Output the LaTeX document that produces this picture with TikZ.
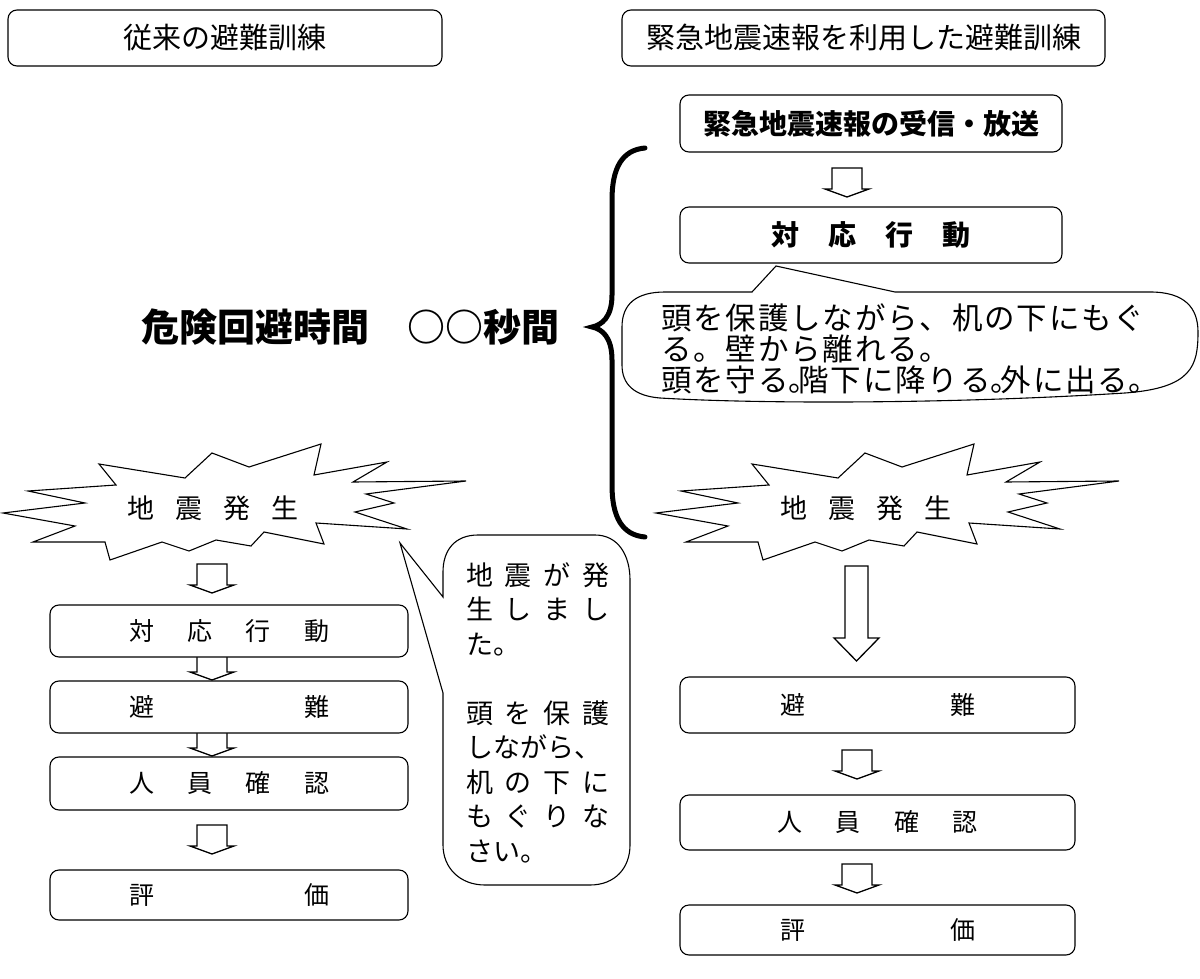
\documentclass[tikz,border=0pt]{standalone}
\usepackage{fontspec}
\setmainfont{Noto Sans CJK JP}
\newfontfamily\cjksp[LetterSpace=6]{Noto Sans CJK JP}
\newcommand{\fsz}[1]{\fontsize{#1}{#1}\selectfont}
\newcommand{\spr}[2]{\makebox[#1][s]{#2}}
\newcommand{\hmaru}{\makebox[10pt][l]{。}}
\tikzset{
  box/.style={draw, line width=1.1pt, rounded corners=9pt, inner sep=0pt, fill=white},
  outl/.style={draw, line width=1.1pt, line join=miter},
  arr/.style={draw, line width=1.3pt, fill=white, line join=miter},
  brace/.style={draw, line width=5pt, line cap=round},
  smallarr/.pic={\draw[arr] (-15,0) -- (15,0) -- (15,21) -- (22,21) -- (0,29) -- (-22,21) -- (-15,21) -- cycle;},
  bigarr/.pic={\draw[arr] (-11.5,0) -- (11.5,0) -- (11.5,72) -- (22.5,72) -- (0,95) -- (-22.5,72) -- (-11.5,72) -- cycle;},
  burst/.pic={\draw[outl, fill=white] (-210,3) -- (-128,-7) -- (-185,-19) -- (-97,-25) -- (-114,-46) -- (-28,-32) -- (-1,-57) -- (36,-43) -- (108,-66) -- (101,-35) -- (174,-48) -- (140,-28) -- (253,-29) -- (153,-16) -- (181,-7) -- (142,2) -- (194,19) -- (103,13) -- (111,34) -- (51,22) -- (38,36) -- (3,30) -- (-24,41) -- (-51,32) -- (-103,50) -- (-108,32) -- (-180,32) -- (-138,16) -- cycle;}
}
\begin{document}
\begin{tikzpicture}[x=1pt, y=-1pt]
\useasboundingbox (0,0) rectangle (1200,979);

% titles
\node[box, minimum width=434pt, minimum height=56pt] (t1) at (225,38) {\fsz{29}従来の避難訓練};
\node[box, minimum width=483pt, minimum height=56pt] (t2) at (863.5,38) {\fsz{29}緊急地震速報を利用した避難訓練};

% left column (arrows drawn first, boxes on top)
\pic at (212,564) {smallarr};
\pic at (212,651) {smallarr};
\pic at (212,727) {smallarr};
\pic at (212,825) {smallarr};
\pic at (213,510) {burst};
\node (e1) at (213,508) {\fsz{27}\spr{172pt}{地\hfill 震\hfill 発\hfill 生}};
\node[box, minimum width=358pt, minimum height=52pt] (l1) at (229,631) {\fsz{25}\spr{200pt}{対\hfill 応\hfill 行\hfill 動}};
\node[box, minimum width=358pt, minimum height=52pt] (l2) at (229,707) {\fsz{25}\spr{200pt}{避\hfill 難}};
\node[box, minimum width=358pt, minimum height=53pt] (l3) at (229,783.5) {\fsz{25}\spr{200pt}{人\hfill 員\hfill 確\hfill 認}};
\node[box, minimum width=358pt, minimum height=50pt] (l4) at (229,895) {\fsz{25}\spr{200pt}{評\hfill 価}};

% left callout
\draw[outl] (400,543) -- (443,597) -- (443,572) .. controls (443,550) and (455,535) .. (478,535) -- (595,535) .. controls (618,535) and (630,555) .. (630,580) -- (630,845) .. controls (630,868) and (615,885) .. (590,885) -- (485,885) .. controls (460,885) and (443,868) .. (443,845) -- (443,693) -- cycle;
\node[anchor=north west, align=left, inner sep=0pt, font=\fontsize{27}{34.5}\selectfont] (c1) at (466,562) {%
\spr{143pt}{地\hfill 震\hfill が\hfill 発}\\
\spr{143pt}{生\hfill し\hfill ま\hfill し}\\
た。\\[34.5pt]
\spr{143pt}{頭\hfill を\hfill 保\hfill 護}\\
しながら、\\
\spr{143pt}{机\hfill の\hfill 下\hfill に}\\
\spr{143pt}{も\hfill ぐ\hfill り\hfill な}\\
さい。};

% middle label and brace
\node (lab) at (350,327) {\fsz{38}\bfseries 危険回避時間　○○秒間};
\draw[brace] (645,148) .. controls (622,150) and (612,168) .. (612,200) -- (612,295) .. controls (612,317) and (602,325) .. (592,327) .. controls (602,329) and (612,337) .. (612,360) -- (612,485) .. controls (612,517) and (622,535) .. (645,537);

% right column
\node[box, minimum width=382pt, minimum height=57pt] (r0) at (871,123.5) {\fsz{28}\bfseries 緊急地震速報の受信・放送};
\pic at (847,168) {smallarr};
\node[box, minimum width=382pt, minimum height=56pt] (r1) at (871,235) {\fsz{28}\bfseries\spr{200pt}{対\hfill 応\hfill 行\hfill 動}};

% right callout
\draw[outl] (752,292) -- (776,266) -- (895,292) -- (1150,292) .. controls (1185,292) and (1198,308) .. (1198,332) .. controls (1198,366) and (1192,388) .. (1125,393) .. controls (950,404) and (760,404) .. (660,398) .. controls (635,396) and (622,385) .. (622,365) -- (622,327) .. controls (622,305) and (635,292) .. (665,292) -- cycle;
\node[anchor=north west, align=left, inner sep=0pt, font=\fontsize{30.5}{31}\selectfont\cjksp] (c2) at (661,303) {%
頭を保護しながら、机の下にもぐ\\
る。壁から離れる。\\
頭を守る\hmaru 階下に降りる\hmaru 外に出る\hmaru};

\pic at (866,510) {burst};
\node (e2) at (866,508) {\fsz{27}\spr{172pt}{地\hfill 震\hfill 発\hfill 生}};
\pic at (856.5,566) {bigarr};
\node[box, minimum width=395pt, minimum height=56pt] (r2) at (877.5,705) {\fsz{25}\spr{195pt}{避\hfill 難}};
\pic at (857,750) {smallarr};
\node[box, minimum width=395pt, minimum height=55pt] (r3) at (877.5,822.5) {\fsz{25}\spr{200pt}{人\hfill 員\hfill 確\hfill 認}};
\pic at (857,864) {smallarr};
\node[box, minimum width=395pt, minimum height=50pt] (r4) at (877.5,930) {\fsz{25}\spr{195pt}{評\hfill 価}};
\end{tikzpicture}
\end{document}
